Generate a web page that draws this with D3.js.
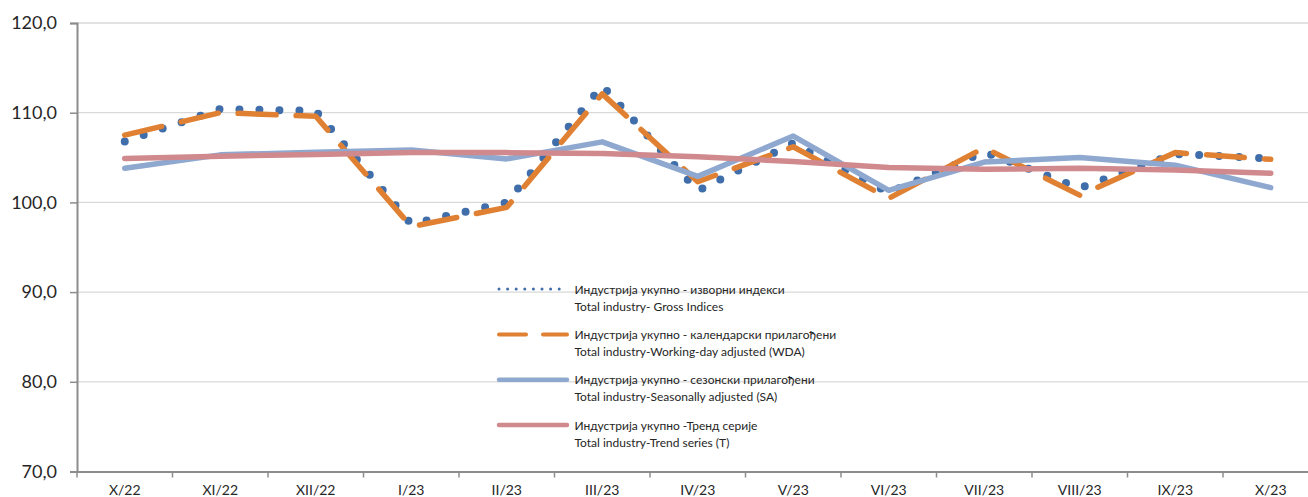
<!DOCTYPE html>
<html>
<head>
<meta charset="utf-8">
<script src="https://cdn.jsdelivr.net/npm/d3@7"></script>
<style>
  html, body { margin: 0; padding: 0; background: #fff; }
  svg { display: block; }
  text { font-family: Lato, "Open Sans", sans-serif; fill: #262626; }
</style>
</head>
<body>
<svg id="chart" width="1308" height="497"></svg>
<script>
// ---- data ----
const categories = ["X/22","XI/22","XII/22","I/23","II/23","III/23","IV/23","V/23","VI/23","VII/23","VIII/23","IX/23","X/23"];
const grossIndices = [106.8, 110.4, 110.2, 97.6, 100.0, 113.0, 101.3, 106.6, 101.1, 105.6, 101.6, 105.4, 104.9];
const workingDayAdjusted = [107.5, 110.0, 109.6, 97.3, 99.45, 112.1, 102.3, 106.2, 100.45, 106.1, 100.8, 105.55, 104.8];
const seasonallyAdjusted = [103.8, 105.3, 105.6, 105.85, 104.85, 106.75, 102.9, 107.4, 101.35, 104.5, 105.0, 104.15, 101.65];
const trendSeries = [104.9, 105.15, 105.35, 105.55, 105.55, 105.45, 105.1, 104.55, 103.9, 103.7, 103.8, 103.6, 103.25];
const yTicks = [70, 80, 90, 100, 110, 120];
const legendLabels = [
  ["Индустрија укупно - изворни индекси", "Total industry- Gross Indices"],
  ["Индустрија укупно - календарски прилагођени", "Total industry-Working-day adjusted (WDA)"],
  ["Индустрија укупно - сезонски прилагођени", "Total industry-Seasonally adjusted (SA)"],
  ["Индустрија укупно -Тренд серије", "Total industry-Trend series (T)"]
];

(function () {
// ---- layout ----
const svg = d3.select("#chart");
const plotLeft = 77, plotTop = 23, plotBottom = 471.5, band = 95.5;
const x = d3.scaleBand().domain(categories).range([plotLeft, plotLeft + band * categories.length]).padding(0);
const y = d3.scaleLinear().domain([70, 120]).range([plotBottom, plotTop]);
const xc = c => x(c) + x.bandwidth() / 2;

// gridlines
svg.append("g").selectAll("line").data(yTicks.filter(t => t > 70)).join("line")
  .attr("x1", plotLeft).attr("x2", 1308)
  .attr("y1", d => y(d)).attr("y2", d => y(d))
  .attr("stroke", "#d9d9d9").attr("stroke-width", 1.3);

// y axis
const fmt = d => d.toFixed(1).replace(".", ",");
const yAxis = svg.append("g").attr("transform", `translate(${plotLeft},0)`)
  .call(d3.axisLeft(y).tickValues(yTicks).tickFormat(fmt).tickSize(7).tickPadding(13));
yAxis.select(".domain").attr("stroke", "#8c8c8c").attr("stroke-width", 2);
yAxis.selectAll(".tick line").attr("stroke", "#8c8c8c").attr("stroke-width", 1.5);
yAxis.selectAll(".tick text").style("font-size", "18px").style("font-family", "Lato, sans-serif").attr("fill", "#262626");

// x axis
const xAxis = svg.append("g").attr("transform", `translate(0,${plotBottom})`)
  .call(d3.axisBottom(x).tickSize(0).tickPadding(14));
xAxis.select(".domain").attr("stroke", "#8c8c8c").attr("stroke-width", 2);
xAxis.selectAll(".tick text").style("font-size", "14px").style("font-family", "Lato, sans-serif").attr("fill", "#262626");
// boundary ticks
svg.append("g").selectAll("line").data(categories).join("line")
  .attr("x1", d => x(d)).attr("x2", d => x(d))
  .attr("y1", plotBottom).attr("y2", plotBottom + 6)
  .attr("stroke", "#8c8c8c").attr("stroke-width", 1.5);

// lines
const line = data => d3.line().x((d, i) => xc(categories[i])).y(d => y(d))(data);

svg.append("path").attr("d", line(grossIndices))
  .attr("fill", "none").attr("stroke", "#406eaa").attr("stroke-width", 8)
  .attr("stroke-linecap", "round").attr("stroke-linejoin", "round")
  .attr("stroke-dasharray", "0 20");

svg.append("path").attr("d", line(workingDayAdjusted))
  .attr("fill", "none").attr("stroke", "#e08032").attr("stroke-width", 5.5)
  .attr("stroke-linecap", "round").attr("stroke-linejoin", "round")
  .attr("stroke-dasharray", "38 20");

svg.append("path").attr("d", line(seasonallyAdjusted))
  .attr("fill", "none").attr("stroke", "#8fa8cf").attr("stroke-width", 5.5)
  .attr("stroke-linecap", "round").attr("stroke-linejoin", "round");

svg.append("path").attr("d", line(trendSeries))
  .attr("fill", "none").attr("stroke", "#d08a8e").attr("stroke-width", 5.5)
  .attr("stroke-linecap", "round").attr("stroke-linejoin", "round");

// legend
const legendStyles = [
  {stroke: "#406eaa", width: 3, dash: "0 8.6"},
  {stroke: "#e08032", width: 4, dash: "27 17"},
  {stroke: "#8fa8cf", width: 4.5, dash: null},
  {stroke: "#d08a8e", width: 4.5, dash: null}
];
const legendY = [289, 334.5, 379.7, 425];
const lg = svg.append("g");
legendLabels.forEach((lab, i) => {
  const s = legendStyles[i];
  const ln = lg.append("line").attr("x1", 499).attr("x2", 567)
    .attr("y1", legendY[i]).attr("y2", legendY[i])
    .attr("stroke", s.stroke).attr("stroke-width", s.width).attr("stroke-linecap", "round");
  if (s.dash) ln.attr("stroke-dasharray", s.dash);
  lab.forEach((t, j) => {
    lg.append("text").attr("x", 574.5).attr("y", legendY[i] + j * 17)
      .attr("dominant-baseline", "central")
      .style("font-size", "12px").text(t);
  });
});
})();
</script>
</body>
</html>
